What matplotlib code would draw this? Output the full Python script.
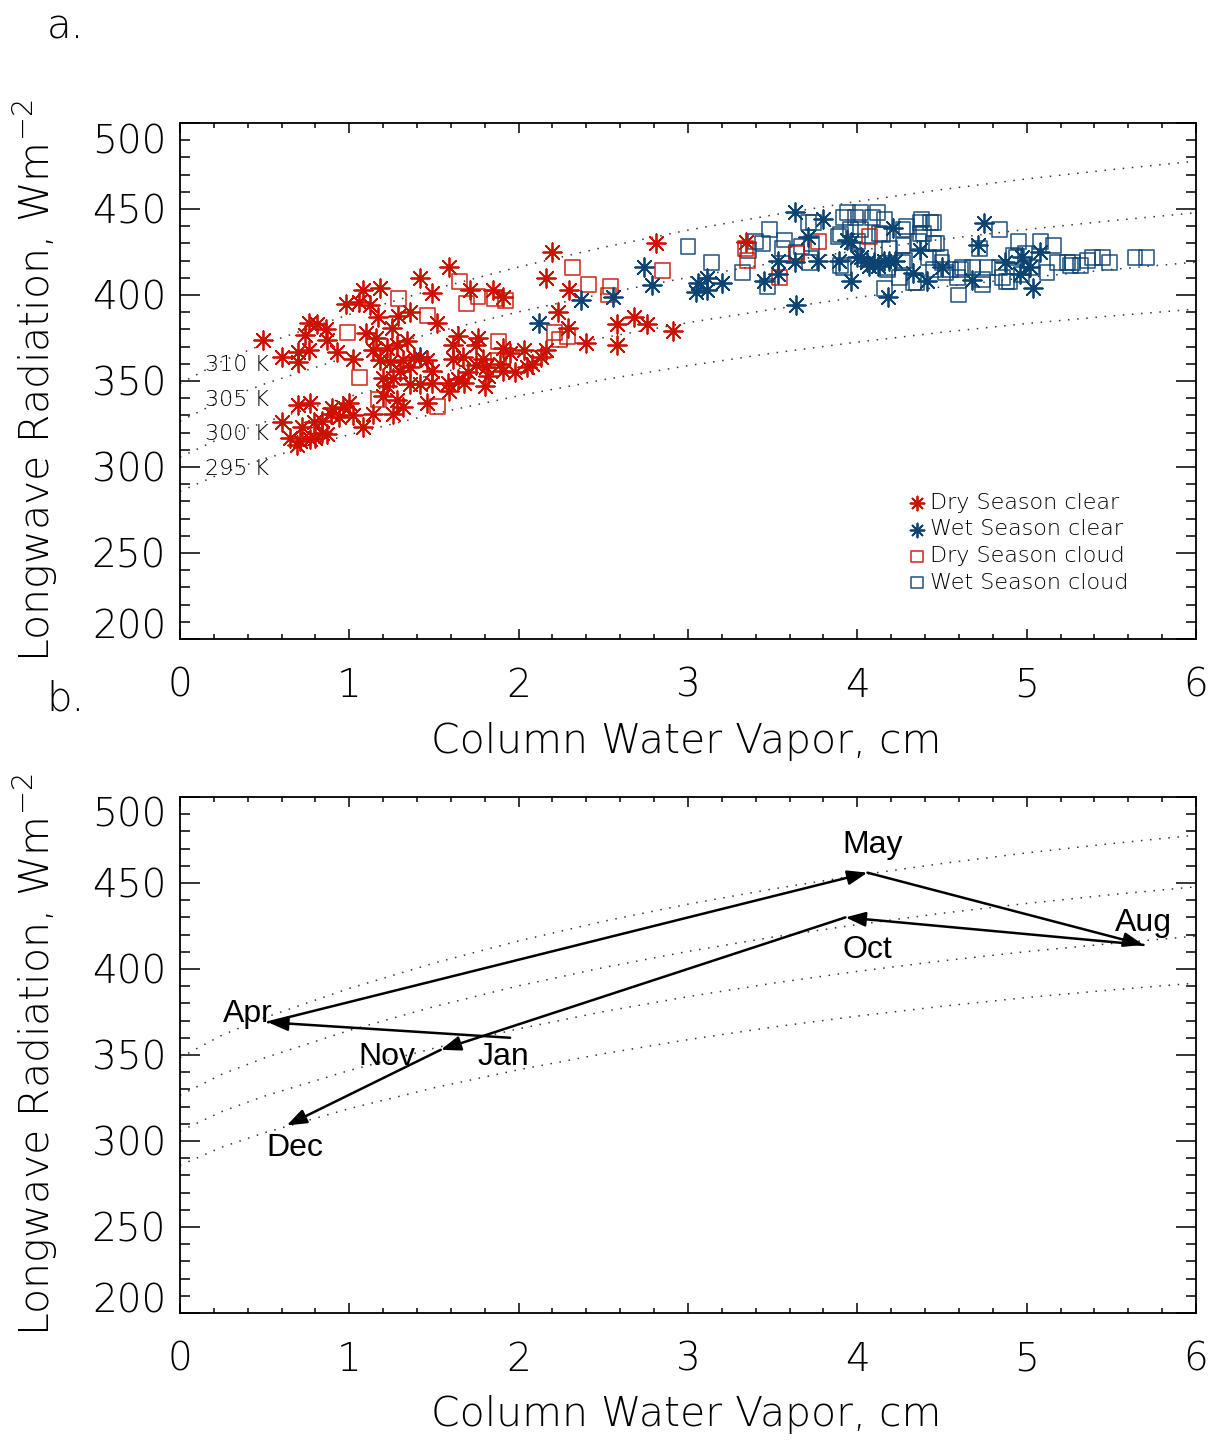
import numpy as np
import matplotlib
matplotlib.use("Agg")
import matplotlib.pyplot as plt

FONT = "DejaVu Sans"
RED = "#CC1100"
BLUE = "#0B4373"

# brightness-temperature reference curves
CWV_GRID = [0, 0.25, 0.5, 1, 1.5, 2, 2.5, 3, 3.5, 4, 4.5, 5, 5.5, 6]
LW_310 = [348.5, 361.6, 371.7, 388.7, 403.4, 416.3, 427.7, 437.7, 446.5, 454.4, 461.3, 467.5, 472.9, 477.8]
LW_305 = [326.6, 338.9, 348.3, 364.3, 378.1, 390.2, 400.8, 410.2, 418.5, 425.8, 432.4, 438.1, 443.2, 447.8]
LW_300 = [305.7, 317.2, 326.1, 341.0, 353.9, 365.2, 375.2, 383.9, 391.7, 398.6, 404.7, 410.1, 414.8, 419.1]
LW_295 = [285.8, 296.5, 304.8, 318.8, 330.9, 341.4, 350.7, 358.9, 366.2, 372.6, 378.3, 383.4, 387.8, 391.8]
CURVE_LABELS = ["310 K", "305 K", "300 K", "295 K"]
CURVE_LABEL_LW = [359, 339, 319, 299]

dry_clear_cwv = [1.42, 1.49, 1.08, 1.18, 0.98, 1.06, 1.12, 1.36, 1.29, 1.17, 1.25, 1.52, 0.76, 0.81,
                 0.86, 0.87, 0.74, 0.49, 0.70, 0.76, 0.60, 0.70, 0.93, 1.02, 1.10, 1.16, 1.14, 1.22,
                 1.28, 1.34, 1.18, 1.24, 1.32, 1.38, 1.30, 1.36, 1.46, 1.49, 1.20, 1.26, 1.22, 1.36,
                 1.42, 1.49, 1.20, 1.28, 1.46, 1.32, 1.26, 1.14, 0.70, 0.77, 0.90, 0.96, 1.00, 1.02,
                 1.08, 0.94, 0.89, 0.84, 0.79, 0.60, 0.72, 0.84, 0.65, 0.71, 0.77, 0.80, 0.87, 0.69,
                 2.20, 1.59, 1.71, 1.85, 1.91, 2.16, 2.30, 2.23, 2.29, 2.40, 2.16, 2.03, 1.64, 1.76,
                 1.75, 1.61, 1.91, 1.95, 1.79, 1.67, 1.61, 1.89, 1.81, 1.75, 2.08, 2.05, 2.13, 1.70,
                 1.64, 1.58, 1.68, 1.82, 1.80, 1.59, 1.98, 1.91, 2.81, 2.58, 2.68, 2.76, 2.91, 2.58,
                 3.34]
dry_clear_lw = [410, 401, 403, 404, 395, 396, 394, 390, 388, 387, 381, 384, 384, 383,
                380, 374, 377, 374, 367, 368, 364, 361, 367, 363, 378, 375, 368, 369,
                371, 373, 362, 361, 362, 364, 356, 358, 362, 356, 352, 352, 347, 348,
                348, 349, 341, 339, 337, 335, 331, 331, 336, 337, 334, 335, 337, 330,
                323, 329, 331, 327, 326, 326, 323, 320, 317, 315, 316, 317, 319, 313,
                425, 416, 403, 403, 399, 410, 403, 390, 381, 372, 368, 368, 376, 375,
                371, 371, 369, 366, 363, 364, 363, 360, 358, 359, 360, 358, 364, 355,
                351, 349, 349, 353, 347, 344, 355, 356, 430, 383, 387, 383, 379, 371,
                431]

wet_clear_cwv = [1.42, 2.12, 2.37, 2.56, 2.74, 2.79, 3.06, 3.11, 3.05, 3.11, 3.20, 3.45, 3.53, 3.53,
                 3.63, 3.63, 3.80, 3.71, 3.96, 4.21, 4.37, 3.77, 3.89, 4.00, 4.06, 4.10, 4.16, 4.22,
                 4.33, 4.41, 3.96, 4.18, 3.64, 4.75, 3.94, 4.02, 4.07, 4.12, 4.19, 4.71, 4.87, 4.97,
                 5.02, 5.08, 5.04, 4.68, 4.50, 4.96]
wet_clear_lw = [364, 384, 397, 399, 416, 406, 407, 410, 402, 403, 407, 408, 412, 420,
                419, 448, 444, 434, 431, 439, 426, 420, 420, 422, 419, 419, 420, 420,
                413, 408, 408, 399, 394, 442, 432, 422, 417, 417, 420, 429, 419, 422,
                416, 425, 404, 409, 416, 412]

dry_cloud_cwv = [0.99, 1.29, 1.46, 1.65, 1.69, 1.76, 1.86, 1.92, 1.88, 1.06, 1.17, 1.52, 2.32, 2.41,
                 2.54, 2.53, 2.85, 2.21, 2.24, 2.29, 3.35, 3.77, 3.64, 3.54, 4.07, 3.34, 1.88]
dry_cloud_lw = [378, 398, 388, 408, 395, 399, 398, 397, 373, 352, 339, 335, 416, 406,
                405, 400, 414, 378, 374, 376, 420, 431, 424, 410, 434, 427, 362]

wet_cloud_cwv = [3.00, 3.14, 3.32, 3.47, 3.48, 3.44, 3.40, 3.36, 3.57, 3.56, 3.64, 3.73, 3.74, 3.92,
                 3.90, 3.92, 3.67, 3.72, 3.71, 3.89, 3.94, 3.99, 4.02, 4.09, 4.12, 4.16, 3.90, 4.15,
                 4.27, 4.37, 4.39, 4.45, 4.27, 4.19, 4.28, 4.42, 4.16, 3.96, 4.00, 4.06, 4.18, 4.33,
                 4.45, 4.02, 4.13, 4.29, 4.38, 4.43, 4.37, 4.36, 4.47, 4.18, 4.27, 4.25, 4.35, 4.49,
                 4.50, 4.55, 4.61, 4.68, 4.74, 4.60, 4.72, 4.84, 4.95, 5.08, 5.16, 4.92, 4.84, 4.88,
                 5.03, 5.12, 5.18, 5.24, 5.27, 5.36, 5.39, 5.45, 5.49, 5.64, 5.71, 4.62, 4.77, 4.52,
                 4.59, 4.74, 4.86, 4.90, 4.97, 5.26, 5.32, 4.99, 4.94, 4.45]
wet_cloud_lw = [428, 419, 413, 405, 438, 430, 431, 426, 432, 427, 425, 430, 442, 445,
                435, 416, 428, 419, 442, 434, 448, 445, 448, 445, 448, 444, 417, 435,
                438, 442, 436, 430, 429, 427, 420, 422, 404, 438, 431, 426, 415, 407,
                415, 438, 436, 440, 444, 442, 436, 431, 430, 416, 419, 410, 407, 422,
                419, 415, 415, 416, 409, 400, 427, 438, 431, 431, 429, 423, 416, 408,
                416, 413, 419, 419, 419, 420, 422, 422, 419, 422, 422, 416, 416, 413,
                410, 406, 410, 408, 412, 417, 417, 424, 422, 442]

# monthly means, in the order the arrows follow
months = ["Jan", "Apr", "May", "Aug", "Oct", "Nov", "Dec"]
month_cwv = [1.95, 0.52, 4.06, 5.69, 3.93, 1.54, 0.63]
month_lw = [360, 369, 456, 414, 430, 353, 309]
month_label_pos = [(1.91, 349), (0.40, 374), (4.09, 472), (5.69, 427), (4.06, 411), (1.22, 349), (0.68, 296)]

plt.rcParams["font.family"] = [FONT]
plt.rcParams["mathtext.default"] = "regular"

ASTER = (8, 2, 0)


def style_axes(ax):
    ax.set_xlim(0, 6)
    ax.set_ylim(200, 500)
    ax.set_xticks(np.arange(0, 7, 1))
    ax.set_xticks(np.arange(0, 6.01, 0.2), minor=True)
    ax.set_yticks(np.arange(200, 501, 50))
    ax.set_yticks(np.arange(200, 501, 10), minor=True)
    ax.tick_params(which="both", direction="in", top=True, right=True, width=1.1, colors="black")
    ax.tick_params(axis="x", which="major", length=7.2, pad=20, labelsize=28)
    ax.tick_params(axis="x", which="minor", length=3.6)
    ax.tick_params(axis="y", which="major", length=14.4, pad=10, labelsize=28)
    ax.tick_params(axis="y", which="minor", length=7.2)
    for lab in ax.get_xticklabels() + ax.get_yticklabels():
        lab.set_fontweight("light")
    ylabs = ax.get_yticklabels()
    ylabs[0].set_verticalalignment("baseline")
    ylabs[-1].set_verticalalignment("top")
    for sp in ax.spines.values():
        sp.set_linewidth(1.3)
    ax.set_xlabel("Column Water Vapor, cm", fontsize=29.5, fontweight="light")
    ax.set_ylabel("Longwave Radiation, Wm$^{-2}$", fontsize=29.5, fontweight="light")
    ax.xaxis.set_label_coords(0.498, -0.16)
    ax.yaxis.set_label_coords(-0.118, 0.5)
    for lw in (LW_310, LW_305, LW_300, LW_295):
        ax.plot(CWV_GRID, lw, color="#333333", lw=1.1, ls=(0, (1, 5)), zorder=1)


fig = plt.figure(figsize=(12.11, 14.42), dpi=100)
ax1 = fig.add_axes([0.1486, 0.5569, 0.839, 0.3578])
ax2 = fig.add_axes([0.1486, 0.0895, 0.839, 0.3578])

style_axes(ax1)
for name, ylab in zip(CURVE_LABELS, CURVE_LABEL_LW):
    ax1.text(0.15, ylab, name, fontsize=16, fontweight="light", ha="left", va="center", zorder=2)

ax1.scatter(wet_cloud_cwv, wet_cloud_lw, marker="s", s=115, facecolors="none",
            edgecolors=BLUE, linewidths=1.2, alpha=0.85, zorder=3, label="Wet Season cloud")
ax1.scatter(wet_clear_cwv, wet_clear_lw, marker=ASTER, s=180, color=BLUE,
            linewidths=1.3, zorder=4, label="Wet Season clear")
ax1.scatter(dry_cloud_cwv, dry_cloud_lw, marker="s", s=115, facecolors="none",
            edgecolors=RED, linewidths=1.2, alpha=0.85, zorder=3, label="Dry Season cloud")
ax1.scatter(dry_clear_cwv, dry_clear_lw, marker=ASTER, s=180, color=RED,
            linewidths=1.3, zorder=4, label="Dry Season clear")

handles, labels = ax1.get_legend_handles_labels()
order = [3, 1, 2, 0]
leg = ax1.legend([handles[i] for i in order], [labels[i] for i in order],
                 loc="upper left", bbox_to_anchor=(0.708, 0.305), frameon=False,
                 handlelength=0.6, handletextpad=0.3, labelspacing=0.3,
                 borderpad=0, markerscale=0.75, prop={"weight": "light", "size": 16})

style_axes(ax2)
for i in range(len(months) - 1):
    ax2.annotate("", xy=(month_cwv[i + 1], month_lw[i + 1]), xytext=(month_cwv[i], month_lw[i]),
                 arrowprops=dict(arrowstyle="-|>,head_length=0.6,head_width=0.22",
                                 mutation_scale=20, lw=1.8, color="black",
                                 shrinkA=0, shrinkB=0), zorder=4)
for name, (tx, ty) in zip(months, month_label_pos):
    ax2.text(tx, ty, name, fontsize=23, family="Liberation Sans", ha="center", va="center", zorder=5)

fig.text(0.054, 0.981, "a.", fontsize=29, fontweight="light", ha="center", va="center")
fig.text(0.054, 0.515, "b.", fontsize=29, fontweight="light", ha="center", va="center")

fig.savefig("out.png", dpi=100)
